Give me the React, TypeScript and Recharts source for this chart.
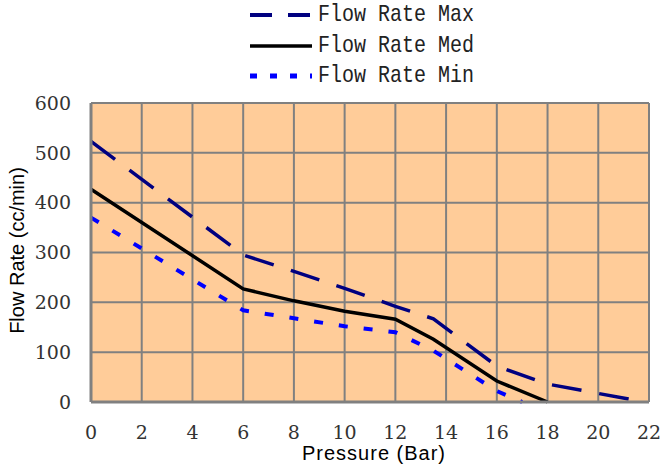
import React from 'react';
import { LineChart, Line, XAxis, YAxis, CartesianGrid, Label } from 'recharts';

// pressure (bar) / flow (cc/min)
const maxPressure = [0, 6, 8, 10, 12, 13.5, 16, 18, 21.5];
const maxFlow = [523, 295, 262, 228, 192, 167, 72, 36, 3];
const medPressure = [0, 6, 8, 10, 12, 13.5, 16, 18];
const medFlow = [427, 227, 203, 182, 166, 126, 42, 0];
const minPressure = [0, 6, 8, 10, 12, 13.5, 16, 17];
const minFlow = [370, 184, 168, 152, 140, 103, 22, 0];

const xTicks = [0, 2, 4, 6, 8, 10, 12, 14, 16, 18, 20, 22];
const yTicks = [0, 100, 200, 300, 400, 500, 600];

const toPoints = (xs: number[], ys: number[]) => xs.map((x, i) => ({ pressure: x, flow: ys[i] }));

const series = [
  { name: 'Flow Rate Max', data: toPoints(maxPressure, maxFlow), color: '#000080', width: 3.5, dash: '30 18', legendDash: '22 16', legendWidth: 4 },
  { name: 'Flow Rate Med', data: toPoints(medPressure, medFlow), color: '#000000', width: 3.5, dash: undefined, legendDash: undefined, legendWidth: 3.5 },
  { name: 'Flow Rate Min', data: toPoints(minPressure, minFlow), color: '#0000FF', width: 4, dash: '9 16', legendDash: '7 13', legendWidth: 5 },
];

const serif = '"DejaVu Serif", "Liberation Serif", serif';

// tick text drawn by hand so the serif font sticks
const Tick = (props: any) => {
  const { x, y, payload, textAnchor, dy } = props;
  return (
    <text x={x} y={y} dy={dy} textAnchor={textAnchor} fill="#333" style={{ fontFamily: serif, fontSize: 19 }}>
      {payload.value}
    </text>
  );
};

const LegendBox = () => (
  <div style={{ position: 'absolute', top: 0, left: 248, fontFamily: '"Liberation Mono", monospace', fontSize: 20, color: '#222' }}>
    {series.map((s) => (
      <div key={s.name} style={{ display: 'flex', alignItems: 'center', height: 30.5 }}>
        <svg width={66} height={12}>
          <line x1={2} y1={6} x2={64} y2={6} stroke={s.color} strokeWidth={s.legendWidth} strokeDasharray={s.legendDash} />
        </svg>
        <span style={{ marginLeft: 4, display: 'inline-block', lineHeight: 1, transform: 'scaleY(1.2)' }}>{s.name}</span>
      </div>
    ))}
  </div>
);

const YTitle = (props: any) => {
  const { x, y, height } = props.viewBox;
  const cx = x - 14;
  const cy = y + height / 2 - 2;
  return (
    <text x={cx} y={cy} transform={`rotate(-90 ${cx} ${cy})`} textAnchor="middle" dominantBaseline="central"
      style={{ fontFamily: '"Liberation Sans", Arial, sans-serif', fontSize: 20, fill: '#000' }}>
      Flow Rate (cc/min)
    </text>
  );
};

const XTitle = (props: any) => {
  const { x, y, width } = props.viewBox;
  return (
    <text x={x + width / 2 + 4} y={y + 58} textAnchor="middle"
      style={{ fontFamily: '"Liberation Sans", Arial, sans-serif', fontSize: 20, letterSpacing: 1, fill: '#000' }}>
      Pressure (Bar)
    </text>
  );
};

const App: React.FC = () => {
  return (
    <div style={{ position: 'absolute', top: 0, left: 0, width: 664, height: 468, background: '#fff' }}>
      <LineChart width={664} height={468} margin={{ top: 103, right: 15, bottom: 6, left: 31 }}>
        <CartesianGrid stroke="#808080" strokeWidth={2} fill="#FFCC99" fillOpacity={1} />
        <XAxis
          type="number"
          dataKey="pressure"
          domain={[0, 22]}
          ticks={xTicks}
          interval={0}
          height={60}
          tickLine={false}
          tickSize={0}
          tickMargin={24}
          axisLine={{ stroke: '#808080', strokeWidth: 3 }}
          tick={<Tick dy="0.71em" />}
        >
          <Label content={XTitle} />
        </XAxis>
        <YAxis
          type="number"
          domain={[0, 600]}
          ticks={yTicks}
          interval={0}
          width={60}
          tickLine={false}
          tickSize={0}
          tickMargin={20}
          axisLine={{ stroke: '#808080', strokeWidth: 3 }}
          tick={<Tick dy="0.355em" />}
        >
          <Label content={YTitle} />
        </YAxis>
        {series.map((s) => (
          <Line
            key={s.name}
            name={s.name}
            data={s.data}
            dataKey="flow"
            type="linear"
            stroke={s.color}
            strokeWidth={s.width}
            strokeDasharray={s.dash}
            dot={false}
            activeDot={false}
            isAnimationActive={false}
          />
        ))}
      </LineChart>
      <LegendBox />
    </div>
  );
};

export default App;
